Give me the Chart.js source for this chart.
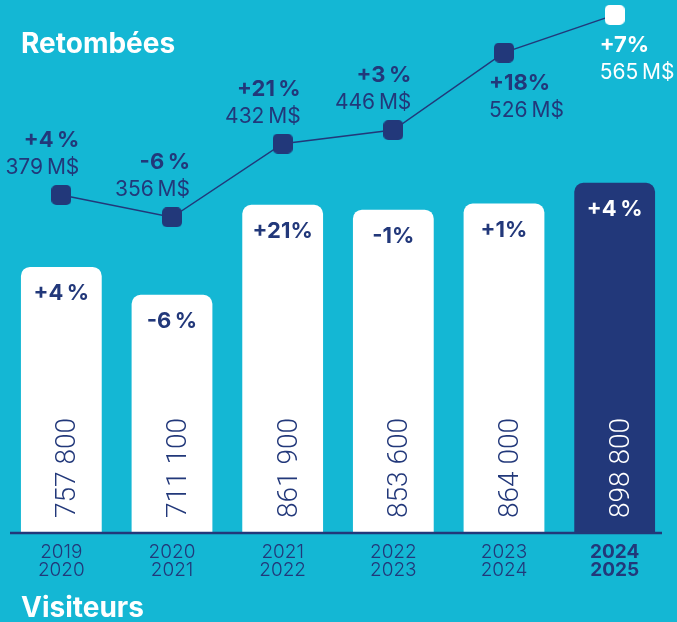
<!DOCTYPE html>
<html lang="fr">
<head>
<meta charset="utf-8">
<title>Retombées et visiteurs</title>
<script src="https://cdn.jsdelivr.net/npm/chart.js@4.4.1/dist/chart.umd.min.js"></script>
<style>
    html, body { margin: 0; padding: 0; background: #14b7d4; }
    #wrap { position: relative; width: 677px; height: 622px; overflow: hidden; }
    #chart { position: absolute; left: 0; top: 0; }
    .title { position: absolute; left: 21px; font: 700 28px/28px Inter, sans-serif; color: #fff; }
</style>
</head>
<body>
<div id="wrap">
    <canvas id="chart" width="677" height="622"></canvas>
    <div class="title" style="top:29px">Retombées</div>
    <div class="title" style="top:593px">Visiteurs</div>
</div>
<script>
// data
const seasons = [['2019', '2020'], ['2020', '2021'], ['2021', '2022'], ['2022', '2023'], ['2023', '2024'], ['2024', '2025']];
const visitors = [757800, 711100, 861900, 853600, 864000, 898800];
const visitorLabels = ['757 800', '711 100', '861 900', '853 600', '864 000', '898 800'];
const visitorChange = ['+4\u202F%', '-6\u202F%', '+21%', '-1%', '+1%', '+4\u202F%'];
const impact = [379, 356, 432, 446, 526, 565];
const impactLabels = ['379\u202FM$', '356\u202FM$', '432\u202FM$', '446\u202FM$', '526\u202FM$', '565\u202FM$'];
const impactChange = ['+4\u202F%', '-6\u202F%', '+21\u202F%', '+3\u202F%', '+18%', '+7%'];

const navy = '#22387a';
const lastIndex = visitors.length - 1;

// rounded square markers for the line
function squareMarker(color) {
    const c = document.createElement('canvas');
    c.width = 20;
    c.height = 20;
    const g = c.getContext('2d');
    g.fillStyle = color;
    g.beginPath();
    g.roundRect(0, 0, 20, 20, 5);
    g.fill();
    return c;
}
const navyMarker = squareMarker(navy);
const whiteMarker = squareMarker('#ffffff');

// value labels, rotated counts and the base line
const labelPlugin = {
    id: 'labels',
    afterDatasetsDraw(chart) {
        const ctx = chart.ctx;
        const area = chart.chartArea;
        const bars = chart.getDatasetMeta(0).data;
        const points = chart.getDatasetMeta(1).data;
        ctx.save();

        bars.forEach(function(bar, i) {
            ctx.fillStyle = i === lastIndex ? '#ffffff' : navy;
            ctx.textBaseline = 'alphabetic';
            ctx.textAlign = 'center';
            ctx.font = '700 22px Inter, sans-serif';
            ctx.fillText(visitorChange[i], bar.x, bar.y + 33);

            ctx.save();
            ctx.translate(bar.x + 14, area.bottom - 14);
            ctx.rotate(-Math.PI / 2);
            ctx.textAlign = 'left';
            ctx.font = '300 28px Roboto, sans-serif';
            ctx.fillText(visitorLabels[i], 0, 0);
            ctx.restore();
        });

        points.forEach(function(pt, i) {
            const below = i >= 4;
            ctx.fillStyle = i === lastIndex ? '#ffffff' : navy;
            ctx.textBaseline = 'alphabetic';
            ctx.textAlign = below ? 'left' : 'right';
            const x = below ? pt.x - 15 : pt.x + 18;
            ctx.font = '700 22px Inter, sans-serif';
            ctx.fillText(impactChange[i], x, below ? pt.y + 37 : pt.y - 48);
            ctx.font = '400 21px Inter, sans-serif';
            ctx.fillText(impactLabels[i], x, below ? pt.y + 64 : pt.y - 21);
        });

        ctx.strokeStyle = navy;
        ctx.lineWidth = 2.5;
        ctx.beginPath();
        ctx.moveTo(area.left + 4, area.bottom + 1);
        ctx.lineTo(area.right - 8, area.bottom + 1);
        ctx.stroke();
        ctx.restore();
    }
};

const chart = new Chart(document.getElementById('chart'), {
    data: {
        labels: seasons,
        datasets: [{
            type: 'bar',
            data: visitors,
            yAxisID: 'y',
            order: 2,
            backgroundColor: (c) => c.dataIndex === lastIndex ? navy : '#ffffff',
            borderWidth: 0,
            borderRadius: { topLeft: 9, topRight: 9, bottomLeft: 0, bottomRight: 0 },
            borderSkipped: 'bottom',
            categoryPercentage: 1,
            barPercentage: 0.73
        }, {
            type: 'line',
            data: impact,
            yAxisID: 'y2',
            order: 1,
            borderColor: navy,
            borderWidth: 1.5,
            pointStyle: impact.map((v, i) => i === lastIndex ? whiteMarker : navyMarker),
            pointRadius: 10,
            clip: false
        }]
    },
    options: {
        responsive: false,
        devicePixelRatio: 1,
        animation: false,
        layout: { autoPadding: false, padding: { left: 6, right: 7, top: 10, bottom: 39 } },
        plugins: {
            legend: { display: false },
            tooltip: { enabled: false }
        },
        scales: {
            x: {
                grid: { display: false },
                border: { display: false },
                ticks: {
                    padding: 4,
                    color: navy,
                    font: (c) => ({
                        family: 'Inter, sans-serif',
                        size: 19,
                        weight: c.index === lastIndex ? '700' : '300',
                        lineHeight: 0.92
                    })
                }
            },
            y: { display: false, min: 314000, max: 1188000 },
            y2: { display: false, position: 'right', min: 31, max: 570 }
        }
    },
    plugins: [labelPlugin]
});
</script>
</body>
</html>
